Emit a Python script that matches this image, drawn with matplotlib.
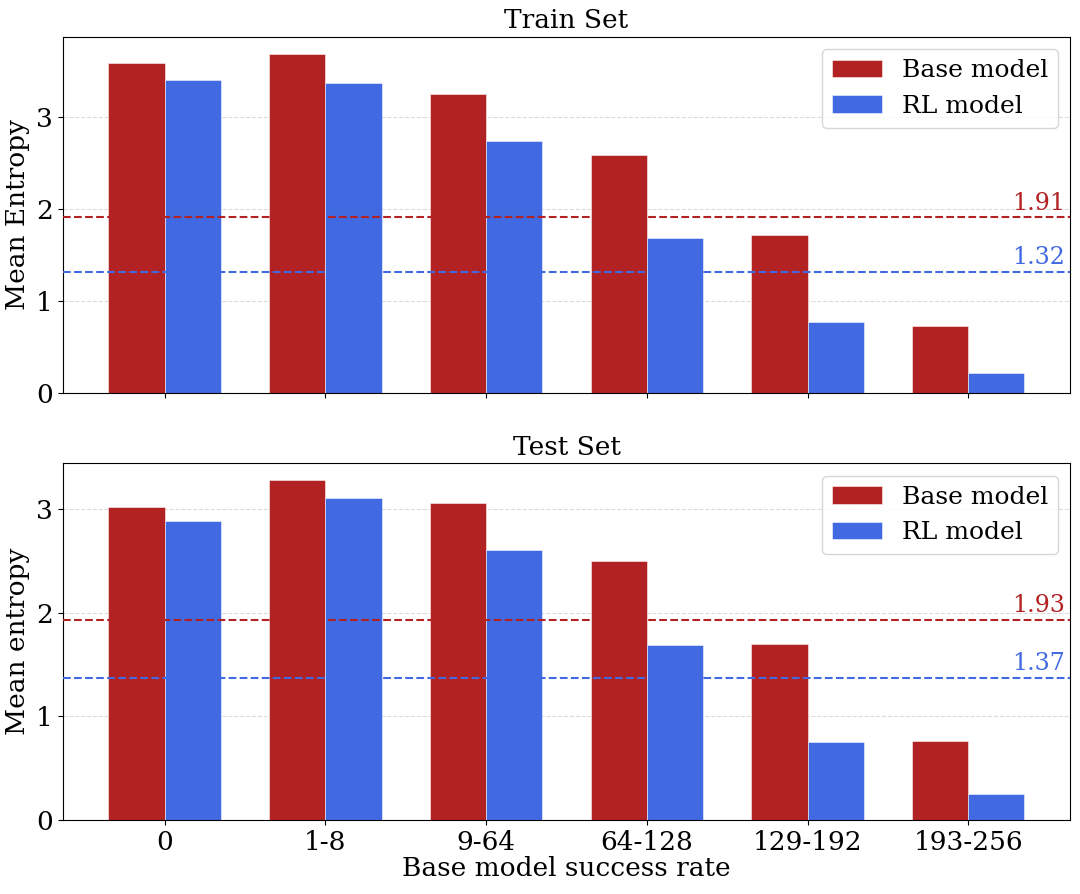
import matplotlib
matplotlib.use('Agg')
import matplotlib.pyplot as plt
from matplotlib.ticker import MultipleLocator
import numpy as np

# ─── Data ───
bins = ['0', '1-8', '9-64', '64-128', '129-192', '193-256']
train_base = [3.59, 3.69, 3.25, 2.59, 1.72, 0.73]
train_rl   = [3.40, 3.37, 2.74, 1.69, 0.77, 0.22]
test_base  = [3.02, 3.28, 3.06, 2.50, 1.70, 0.76]
test_rl    = [2.89, 3.11, 2.61, 1.69, 0.75, 0.25]
train_means = [1.91, 1.32]
test_means  = [1.93, 1.37]

plt.rcParams['font.family'] = 'DejaVu Serif'
RED, BLUE = '#B22222', '#4169E1'

fig, axes = plt.subplots(2, 1, figsize=(10.8, 8.94), dpi=100, sharex=True)
fig.subplots_adjust(left=0.058, right=0.991, top=0.959, bottom=0.083, hspace=0.196)
width = 0.35
x = np.arange(len(bins))

panels = [
    (axes[0], train_base, train_rl, train_means, 'Train Set', 'Mean Entropy'),
    (axes[1], test_base, test_rl, test_means, 'Test Set', 'Mean entropy'),
]
for ax, base, rl, means, title, ylab in panels:
    ax.yaxis.grid(True, linestyle='--', color='#cccccc', alpha=0.7, linewidth=0.8, zorder=3)
    ax.bar(x - width/2, base, width, color=RED, edgecolor=(1, 1, 1, 0.6), linewidth=0.6,
           label='Base model', zorder=2)
    ax.bar(x + width/2, rl, width, color=BLUE, edgecolor=(1, 1, 1, 0.6), linewidth=0.6,
           label='RL model', zorder=2)
    for m, c in zip(means, [RED, BLUE]):
        ax.axhline(m, color=c, linestyle='--', linewidth=1.5, zorder=4)
        ax.text(0.995, m + 0.03, f'{m:.2f}', transform=ax.get_yaxis_transform(),
                ha='right', va='bottom', color=c, fontsize=17, zorder=5)
    ax.yaxis.set_major_locator(MultipleLocator(1))
    ax.set_title(title, fontsize=19)
    ax.set_ylabel(ylab, fontsize=19)
    ax.tick_params(labelsize=19)
    ax.legend(fontsize=18, loc='upper right').set_zorder(6)

axes[1].set_xticks(x)
axes[1].set_xticklabels(bins)
axes[1].set_xlabel('Base model success rate', fontsize=19, labelpad=1)

plt.savefig('out.png', dpi=100)
